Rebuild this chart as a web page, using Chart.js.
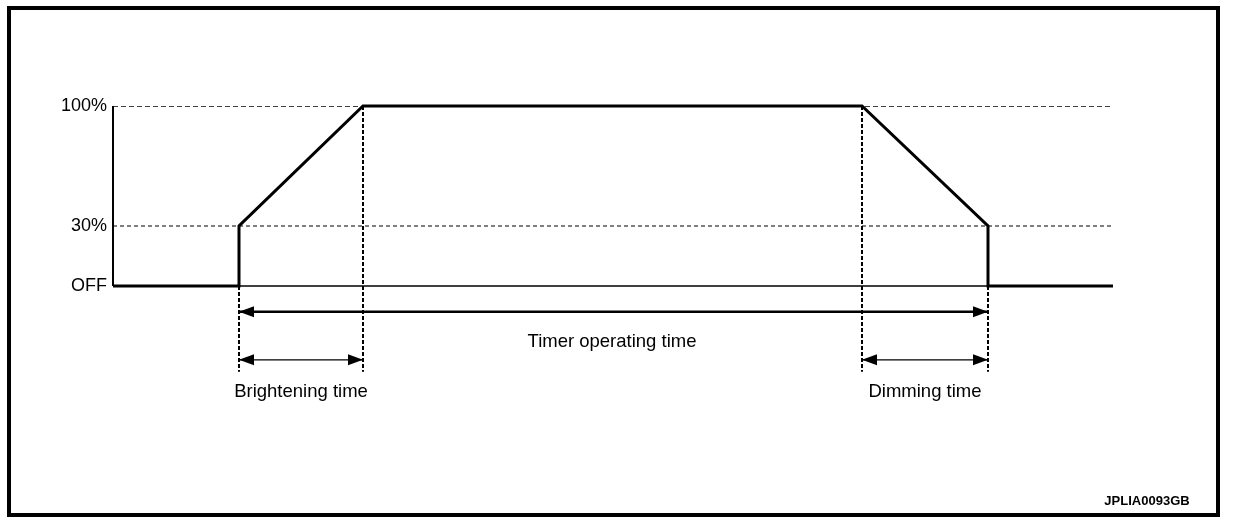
<!DOCTYPE html>
<html><head><meta charset="utf-8">
<script src="https://cdn.jsdelivr.net/npm/chart.js@4/dist/chart.umd.min.js"></script>
<style>
html,body{margin:0;padding:0;background:#fff;}
#wrap{position:relative;width:1248px;height:520px;}
#frame{position:absolute;left:7px;top:6px;width:1205px;height:503px;border:4px solid #000;pointer-events:none;}
</style></head>
<body><div id="wrap"><canvas id="c" width="1248" height="520"></canvas><div id="frame"></div></div>
<script>
// Level ticks (y) and their labels
const levelTicks = [0, 1, 3];
const levelLabels = ['OFF', '30%', '100%'];
// Lamp output trace (time units, level units)
const traceTime = [0, 126, 126, 250, 749, 875, 875, 1000];
const traceLevel = [0, 0, 1, 3, 3, 1, 0, 0];
// Phase boundaries and the level at which each boundary meets the trace
const boundaryTime = [126, 250, 749, 875];
const boundaryLevel = [1, 3, 3, 1];
const boundaryBottom = -1.43;
// Span arrows
const arrowStart = [126, 126, 749];
const arrowEnd = [875, 250, 875];
const arrowLevel = [-0.43, -1.23, -1.23];
const arrowWidth = [2.5, 1.3, 1.3];
// Span labels
const spanLabels = ['Timer operating time', 'Brightening time', 'Dimming time'];
const spanLabelTime = [499, 188, 812];
const spanLabelLevel = [-0.93, -1.77, -1.77];
const figureId = 'JPLIA0093GB';
const timeMax = 1000;

const FONT = '"Liberation Sans", Arial, sans-serif';
const datasets = [];
// reference dashed lines at 30% and 100%
[1, 3].forEach(lv => datasets.push({
  data: [{x: 0, y: lv}, {x: timeMax, y: lv}],
  borderColor: '#000', borderWidth: lv === 3 ? 1.6 : 1.2, borderDash: lv === 3 ? [5, 3] : [4, 3],
  pointRadius: 0
}));
// OFF baseline
datasets.push({data: [{x: 0, y: 0}, {x: timeMax, y: 0}], borderColor: '#000', borderWidth: 1.3, pointRadius: 0});
// y axis line
datasets.push({data: [{x: 0, y: 0}, {x: 0, y: 3}], borderColor: '#000', borderWidth: 2, pointRadius: 0, clip: false});
// boundary dashed verticals
boundaryTime.forEach((t, i) => datasets.push({
  data: [{x: t, y: boundaryLevel[i]}, {x: t, y: boundaryBottom}],
  borderColor: '#000', borderWidth: 2, borderDash: [4, 2], pointRadius: 0
}));
// arrows
arrowStart.forEach((s, i) => datasets.push({
  data: [{x: s, y: arrowLevel[i]}, {x: arrowEnd[i], y: arrowLevel[i]}],
  borderColor: '#000', borderWidth: arrowWidth[i], pointRadius: 0, arrow: true
}));
// main trace
datasets.push({
  data: traceTime.map((t, i) => ({x: t, y: traceLevel[i]})),
  borderColor: '#000', borderWidth: 3, pointRadius: 0, borderJoinStyle: 'miter', clip: false
});

const decor = {
  id: 'decor',
  afterDatasetsDraw(chart) {
    const ctx = chart.ctx, xs = chart.scales.x, ys = chart.scales.y;
    ctx.save();
    ctx.fillStyle = '#000';
    chart.data.datasets.forEach(ds => {
      if (!ds.arrow) return;
      const y = ys.getPixelForValue(ds.data[0].y);
      const x1 = xs.getPixelForValue(ds.data[0].x), x2 = xs.getPixelForValue(ds.data[1].x);
      const L = 15, H = 5.5;
      ctx.beginPath(); ctx.moveTo(x1, y); ctx.lineTo(x1 + L, y - H); ctx.lineTo(x1 + L, y + H); ctx.closePath(); ctx.fill();
      ctx.beginPath(); ctx.moveTo(x2, y); ctx.lineTo(x2 - L, y - H); ctx.lineTo(x2 - L, y + H); ctx.closePath(); ctx.fill();
    });
    ctx.font = '18.5px ' + FONT;
    ctx.textAlign = 'center'; ctx.textBaseline = 'middle';
    spanLabels.forEach((s, i) => ctx.fillText(s, xs.getPixelForValue(spanLabelTime[i]), ys.getPixelForValue(spanLabelLevel[i])));
    ctx.font = 'bold 13px ' + FONT;
    ctx.fillText(figureId, 1147, 501);
    ctx.restore();
  }
};

new Chart(document.getElementById('c'), {
  type: 'line',
  data: {datasets},
  options: {
    responsive: false, animation: false,
    layout: {padding: {left: 0, right: 135, top: 106, bottom: 114}},
    plugins: {legend: {display: false}, tooltip: {enabled: false}},
    scales: {
      x: {type: 'linear', min: 0, max: timeMax, display: false},
      y: {
        type: 'linear', min: -2, max: 3,
        grid: {display: false, drawTicks: false}, border: {display: false},
        afterBuildTicks: s => { s.ticks = levelTicks.map(v => ({value: v})); },
        afterFit: s => { s.width = 113; },
        ticks: {
          padding: 6, color: '#000', font: {family: FONT, size: 18},
          callback: v => levelLabels[levelTicks.indexOf(v)]
        }
      }
    }
  },
  plugins: [decor]
});
</script>
</body></html>
